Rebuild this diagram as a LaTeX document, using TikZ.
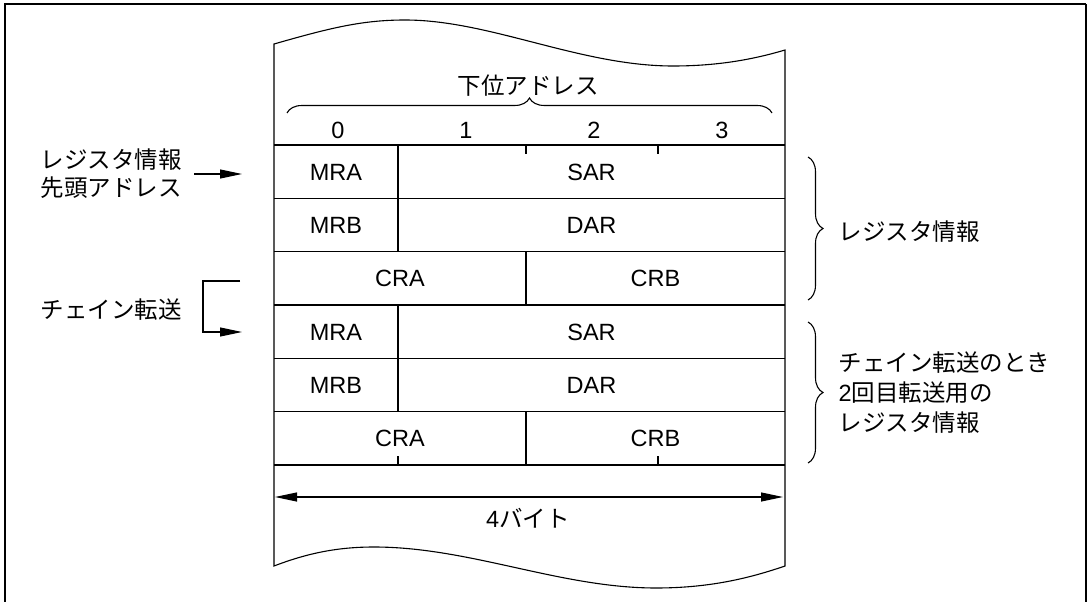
\documentclass[tikz,border=0pt]{standalone}
\usepackage{fontspec}
\setmainfont{Liberation Sans}
\newfontfamily\jp{Noto Sans CJK JP}
\usetikzlibrary{arrows.meta,decorations.pathreplacing}
\begin{document}
\begin{tikzpicture}[x=1pt,y=-1pt,line width=1.1pt,every node/.style={font=\fontsize{23.5}{28}\selectfont,inner sep=0pt},jtext/.style={font=\fontsize{23.5}{28}\selectfont\jp},frame/.style={line width=2.2pt},tip/.style={-{Triangle[length=22pt,width=9pt]}},span/.style={{Triangle[length=22pt,width=9pt]}-{Triangle[length=22pt,width=9pt]}},brc/.style={decorate,decoration={brace,amplitude=15pt}}]
\useasboundingbox (0,0) rectangle (1088,602);
\draw[frame] (5,602) -- (5,4) -- (1086,4);
\draw[line width=1.3pt] (1086,4) -- (1086,602);
% paper strip with torn ends
\draw (274,566) -- (274,44) .. controls (330,28) and (362,20) .. (405,20) .. controls (490,20) and (580,66) .. (673,66) .. controls (722,66) and (758,58) .. (785,50) -- (785,566) .. controls (750,578) and (710,588) .. (656,588) .. controls (560,588) and (470,547) .. (374,547) .. controls (338,547) and (308,553) .. (274,566) -- cycle;
\foreach \k in {0,...,6}{\draw (274,{145+53.33*\k}) -- (785,{145+53.33*\k});}
\foreach \t in {145,305}{\draw (398,\t) -- (398,{\t+106.67});}
\foreach \t in {251.67,411.67}{\draw (526,\t) -- (526,{\t+53.33});}
\draw (526,145) -- (526,154) (658,145) -- (658,154) (398,465) -- (398,456) (658,465) -- (658,456);
\foreach \r/\y in {a/172,b/332}{
  \node (mra\r) at (336,\y) {MRA};
  \node (sar\r) at (591.5,\y) {SAR};
  \node (mrb\r) at (336,{\y+53.33}) {MRB};
  \node (dar\r) at (591.5,{\y+53.33}) {DAR};
  \node (cra\r) at (400,{\y+106.67}) {CRA};
  \node (crb\r) at (655.5,{\y+106.67}) {CRB};
}
% byte offsets
\foreach \d/\x in {0/338,1/466,2/594,3/722}{\node (byte\d) at (\x,130) {\d};}
\draw[brc] (287,113) -- (772,113);
\node[jtext] (lowaddr) at (528,86) {下位アドレス};
% left side
\node[jtext,anchor=west,align=left] (headaddr) at (40,174) {レジスタ情報\\先頭アドレス};
\coordinate (inA) at (242,174);
\draw[tip] ([xshift=12pt]headaddr.east) -- (inA);
\node[jtext,anchor=west] (chain) at (40,310) {チェイン転送};
\coordinate (outC) at (240,281);
\coordinate (inC) at (242,332);
\draw[tip] (outC) -- ++(-37,0) |- (inC);
% right side
\draw[brc] (808,157) -- (808,300);
\node[jtext,anchor=west] (reginfo) at (838,232) {レジスタ情報};
\draw[brc] (808,322) -- (808,463);
\node[jtext,anchor=west,align=left,font=\fontsize{23.5}{30}\selectfont\jp] (chaininfo) at (838,393) {チェイン転送のとき\\{\rmfamily 2}回目転送用の\\レジスタ情報};
% width
\coordinate (wl) at (275,497);
\coordinate (wr) at (783,497);
\draw[span] (wl) -- (wr);
\node[jtext] (width) at (528,518) {{\rmfamily 4}バイト};
\end{tikzpicture}
\end{document}
